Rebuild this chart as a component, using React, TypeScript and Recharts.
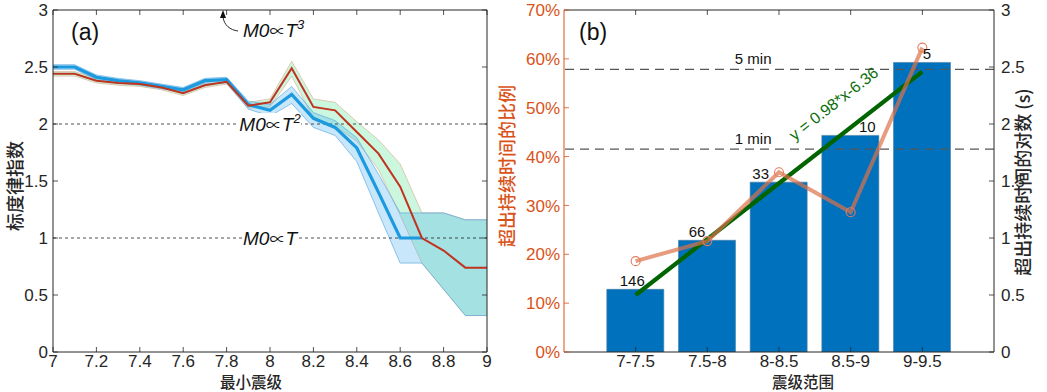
import React from "react";
import {
  ComposedChart,
  Line,
  Area,
  Bar,
  XAxis,
  YAxis,
  ReferenceLine,
  LabelList,
} from "recharts";

const FONT = '"Liberation Sans", Arial, "Noto Sans CJK SC", sans-serif';
const CJK = '"Noto Sans CJK SC", "Liberation Sans", sans-serif';
const INK = "#262626";
const ORANGE = "#D95319";

// ---- panel (a): scaling exponent vs minimum magnitude ----
const minMag = [7, 7.1, 7.2, 7.3, 7.4, 7.5, 7.6, 7.7, 7.8, 7.9, 8, 8.1, 8.2, 8.3, 8.4, 8.5, 8.6, 8.7, 8.8, 8.9, 9];
const blueExp = [2.5, 2.5, 2.41, 2.38, 2.36, 2.33, 2.3, 2.38, 2.39, 2.17, 2.12, 2.26, 2.05, 1.97, 1.79, 1.4, 1.0, 1.0, null, null, null];
const blueLo = [2.48, 2.48, 2.39, 2.36, 2.34, 2.31, 2.28, 2.35, 2.36, 2.13, 2.07, 2.18, 1.97, 1.9, 1.67, 1.22, 0.78, 0.78, 0.55, 0.32, 0.32];
const blueHi = [2.52, 2.52, 2.43, 2.4, 2.38, 2.35, 2.32, 2.4, 2.41, 2.2, 2.17, 2.33, 2.1, 2.03, 1.88, 1.56, 1.22, 1.22, 1.22, 1.16, 1.16];
const redExp = [2.44, 2.44, 2.38, 2.36, 2.35, 2.32, 2.27, 2.34, 2.37, 2.16, 2.19, 2.49, 2.15, 2.12, 1.93, 1.74, 1.45, 1.0, 0.89, 0.74, 0.74];
const redLo = [2.42, 2.42, 2.36, 2.34, 2.33, 2.3, 2.25, 2.32, 2.35, 2.14, 2.15, 2.42, 2.05, 1.98, 1.85, 1.6, 1.2, 0.78, 0.55, 0.32, 0.32];
const redHi = [2.46, 2.46, 2.4, 2.38, 2.37, 2.34, 2.29, 2.36, 2.39, 2.19, 2.22, 2.55, 2.22, 2.19, 2.02, 1.86, 1.65, 1.22, 1.22, 1.16, 1.16];
const xTicksA = [7, 7.2, 7.4, 7.6, 7.8, 8, 8.2, 8.4, 8.6, 8.8, 9];
const yTicksA = [0, 0.5, 1, 1.5, 2, 2.5, 3];
const powerLaws = [
  { value: 2, exp: "2" },
  { value: 1, exp: "" },
];

// ---- panel (b): exceedance by magnitude bin ----
const magBins = ["7-7.5", "7.5-8", "8-8.5", "8.5-9", "9-9.5"];
const logExcess = [0.55, 0.98, 1.49, 1.9, 2.54];
const quakeCounts = [146, 66, 33, 10, 5];
const excessShare = [18.6, 22.7, 36.8, 28.6, 62.3];
const fitLine = [0.5, null, null, null, 2.46];
const durationLines = [
  { label: "5 min", value: 2.48 },
  { label: "1 min", value: 1.78 },
];
const leftTicksB = [0, 10, 20, 30, 40, 50, 60, 70];
const rightTicksB = [0, 0.5, 1, 1.5, 2, 2.5, 3];
const countNudge = [-3, -10, -18, 17, 5];

const dataA = minMag.map((m, i) => ({
  m,
  blue: blueExp[i],
  red: redExp[i],
  blueBand: [blueLo[i], blueHi[i]],
  redBand: [redLo[i], redHi[i]],
}));

const dataB = magBins.map((bin, i) => ({
  bin,
  dur: logExcess[i],
  n: quakeCounts[i],
  pct: excessShare[i],
  fit: fitLine[i],
}));

type Side = "left" | "right" | "top" | "bottom";

// MATLAB-style ticks pointing into the plot box
const inwardTick =
  (side: Side, gap: number, color: string, fmt?: (v: any) => string) =>
  (props: any) => {
    const { x, y, payload } = props;
    const L = 5;
    let c: number[];
    if (side === "left") c = [x + gap, y, x + gap + L, y];
    else if (side === "right") c = [x - gap, y, x - gap - L, y];
    else if (side === "bottom") c = [x, y - gap, x, y - gap - L];
    else c = [x, y + gap, x, y + gap + L];
    const anchor = side === "left" ? "end" : side === "right" ? "start" : "middle";
    const dy = side === "bottom" ? "0.74em" : "0.36em";
    return (
      <g>
        <line x1={c[0]} y1={c[1]} x2={c[2]} y2={c[3]} stroke={color} strokeWidth={0.8} />
        {fmt && (
          <text x={x} y={y} dy={dy} textAnchor={anchor} fill={color === ORANGE ? ORANGE : INK} fontSize={17} fontFamily={FONT}>
            {fmt(payload.value)}
          </text>
        )}
      </g>
    );
  };

const num = (v: any) => String(v);

const powerLabel = (exp: string) => (props: any) => {
  const { viewBox } = props;
  const cx = viewBox.x + viewBox.width * 0.5;
  const cy = viewBox.y;
  const w = exp ? 62 : 56;
  return (
    <g>
      <rect x={cx - w / 2} y={cy - 11} width={w} height={22} fill="#fff" />
      <text x={cx} y={cy + 7} textAnchor="middle" fontSize={19} fontStyle="italic" fill="#111" fontFamily={FONT}>
        M0
        <tspan fontStyle="normal" fontSize={16}>∝</tspan>
        T
        {exp && (
          <tspan dy={-8} fontSize={13}>
            {exp}
          </tspan>
        )}
      </text>
    </g>
  );
};

const durationLabel = (text: string) => (props: any) => {
  const { viewBox } = props;
  return (
    <text x={viewBox.x + viewBox.width * 0.44} y={viewBox.y - 5} textAnchor="middle" fontSize={15} fill="#111" fontFamily={FONT}>
      {text}
    </text>
  );
};

const countLabel = (props: any) => {
  const { x, y, width, value } = props;
  const k = quakeCounts.indexOf(value);
  return (
    <text x={x + width / 2 + (countNudge[k] || 0)} y={y - 3} textAnchor="middle" fontSize={15} fill="#111" fontFamily={FONT}>
      {value}
    </text>
  );
};

function PanelA() {
  return (
    <ComposedChart
      width={520}
      height={392}
      data={dataA}
      margin={{ top: 9, right: 32, bottom: 16, left: 8 }}
      style={{ position: "absolute", left: 0, top: 0 }}
    >
      <XAxis
        dataKey="m"
        type="number"
        domain={[7, 9]}
        ticks={xTicksA}
        height={24}
        tickSize={0}
        tickMargin={2}
        tickLine={false}
        axisLine={{ stroke: INK }}
        tick={inwardTick("bottom", 2, INK, num)}
        allowDataOverflow
      />
      <XAxis
        xAxisId="top"
        dataKey="m"
        type="number"
        orientation="top"
        domain={[7, 9]}
        ticks={xTicksA}
        height={1}
        tickSize={0}
        tickMargin={0}
        tickLine={false}
        axisLine={{ stroke: INK }}
        tick={inwardTick("top", 0, INK)}
        allowDataOverflow
      />
      <YAxis
        domain={[0, 3]}
        ticks={yTicksA}
        width={45}
        tickSize={0}
        tickMargin={5}
        tickLine={false}
        axisLine={{ stroke: INK }}
        tick={inwardTick("left", 5, INK, num)}
        allowDataOverflow
      />
      <YAxis
        yAxisId="r"
        orientation="right"
        domain={[0, 3]}
        ticks={yTicksA}
        width={1}
        tickSize={0}
        tickMargin={0}
        tickLine={false}
        axisLine={{ stroke: INK }}
        tick={inwardTick("right", 0, INK)}
        allowDataOverflow
      />
      <Area
        dataKey="redBand"
        type="linear"
        fill="#7debb0"
        fillOpacity={0.4}
        stroke="#d7b493"
        strokeWidth={0.7}
        isAnimationActive={false}
      />
      <Area
        dataKey="blueBand"
        type="linear"
        fill="#4db0f0"
        fillOpacity={0.3}
        stroke="#62abe0"
        strokeWidth={0.7}
        isAnimationActive={false}
      />
      {powerLaws.map((p) => (
        <ReferenceLine
          key={p.value}
          y={p.value}
          stroke="#222"
          strokeWidth={0.8}
          strokeDasharray="3 3"
          label={powerLabel(p.exp)}
        />
      ))}
      <Line dataKey="blue" type="linear" stroke="#1c9ae0" strokeWidth={3.2} dot={false} isAnimationActive={false} />
      <Line dataKey="red" type="linear" stroke="#c0331f" strokeWidth={2} dot={false} isAnimationActive={false} />
    </ComposedChart>
  );
}

function PanelB() {
  const pad = { left: 35.8, right: 35.8 };
  return (
    <ComposedChart
      width={527}
      height={392}
      data={dataB}
      margin={{ top: 9, right: 13, bottom: 16, left: 0 }}
      style={{ position: "absolute", left: 520, top: 0 }}
    >
      <XAxis
        dataKey="bin"
        padding={pad}
        interval={0}
        height={24}
        tickSize={0}
        tickMargin={2}
        tickLine={false}
        axisLine={{ stroke: INK }}
        tick={inwardTick("bottom", 2, INK, num)}
      />
      <XAxis
        xAxisId="top"
        dataKey="bin"
        orientation="top"
        padding={pad}
        interval={0}
        height={1}
        tickSize={0}
        tickMargin={0}
        tickLine={false}
        axisLine={{ stroke: INK }}
        tick={inwardTick("top", 0, INK)}
      />
      <YAxis
        yAxisId="left"
        domain={[0, 70]}
        ticks={leftTicksB}
        width={44}
        tickSize={0}
        tickMargin={4}
        tickLine={false}
        axisLine={{ stroke: ORANGE }}
        tick={inwardTick("left", 4, ORANGE, (v) => `${v}%`)}
        allowDataOverflow
      />
      <YAxis
        yAxisId="right"
        orientation="right"
        domain={[0, 3]}
        ticks={rightTicksB}
        width={40}
        tickSize={0}
        tickMargin={7}
        tickLine={false}
        axisLine={{ stroke: INK }}
        tick={inwardTick("right", 7, INK, num)}
        allowDataOverflow
      />
      <Bar
        yAxisId="right"
        dataKey="dur"
        barSize={57}
        fill="#0072BD"
        stroke="#4a7aa0"
        strokeWidth={0.6}
        isAnimationActive={false}
      >
        <LabelList dataKey="n" content={countLabel} />
      </Bar>
      {durationLines.map((d) => (
        <ReferenceLine
          key={d.label}
          yAxisId="right"
          y={d.value}
          stroke="#555"
          strokeWidth={1.2}
          strokeDasharray="9 6"
          label={durationLabel(d.label)}
        />
      ))}
      <Line
        yAxisId="right"
        dataKey="fit"
        type="linear"
        stroke="#006400"
        strokeWidth={4.2}
        dot={false}
        connectNulls
        isAnimationActive={false}
      />
      <Line
        yAxisId="left"
        dataKey="pct"
        type="linear"
        stroke="#dd7048"
        strokeOpacity={0.7}
        strokeWidth={4}
        dot={{ r: 4.5, stroke: "#e57c5c", strokeWidth: 1.1, fill: "none", strokeOpacity: 1 }}
        isAnimationActive={false}
      />
    </ComposedChart>
  );
}

export default function App() {
  return (
    <div
      style={{
        position: "absolute",
        left: 0,
        top: 0,
        width: 1047,
        height: 392,
        background: "#fff",
        fontFamily: FONT,
        overflow: "hidden",
      }}
    >
      <PanelA />
      <PanelB />
      <svg width={1047} height={392} style={{ position: "absolute", left: 0, top: 0, pointerEvents: "none" }}>
        <text x={71} y={40} fontSize={23} fill="#111" fontFamily={FONT}>(a)</text>
        <text x={579} y={40} fontSize={23} fill="#111" fontFamily={FONT}>(b)</text>

        <path d="M238,31 C230,30 224,25 223,17" fill="none" stroke="#111" strokeWidth={0.9} />
        <polygon points="223,10 220,18 226,18" fill="#111" />
        <text x={243} y={37} fontSize={19} fontStyle="italic" fill="#111" fontFamily={FONT}>
          M0<tspan fontStyle="normal" fontSize={16}>∝</tspan>T<tspan dy={-8} fontSize={13}>3</tspan>
        </text>

        <text transform="translate(22,186) rotate(-90)" textAnchor="middle" fontSize={18} fontWeight={500} fill={INK} fontFamily={CJK}>
          标度律指数
        </text>
        <text x={251} y={388} textAnchor="middle" fontSize={15.5} fontWeight={500} fill={INK} fontFamily={CJK}>
          最小震级
        </text>
        <text x={803} y={388} textAnchor="middle" fontSize={15.5} fontWeight={500} fill={INK} fontFamily={CJK}>
          震级范围
        </text>
        <text transform="translate(514,166) rotate(-90)" textAnchor="middle" fontSize={18} fontWeight={500} fill={ORANGE} fontFamily={CJK}>
          超出持续时间的比例
        </text>
        <text transform="translate(1030,182) rotate(-90)" textAnchor="middle" fontSize={18} fontWeight={500} fill={INK} fontFamily={CJK}>
          超出持续时间的对数 (s)
        </text>

        <text
          transform="translate(837,108) rotate(-38)"
          textAnchor="middle"
          fontSize={16}
          fill="#0a6e0a"
          fontFamily={FONT}
        >
          y = 0.98*x-6.36
        </text>
      </svg>
    </div>
  );
}
